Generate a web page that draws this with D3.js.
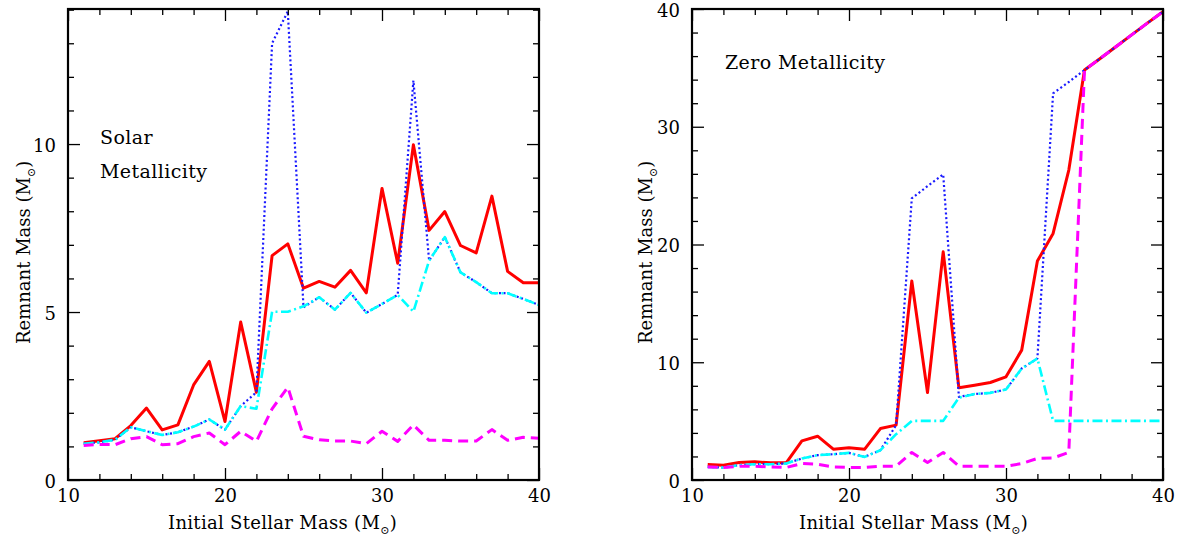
<!DOCTYPE html>
<html><head><meta charset="utf-8">
<script src="https://cdn.jsdelivr.net/npm/d3@7"></script>
<style>
body{margin:0;background:#fff}
svg{display:block}
text{font-family:"DejaVu Serif",serif;fill:#000}
</style>
</head><body>
<svg id="c" width="1181" height="542"></svg>
<script>
// ---- data ----
const masses = [11,12,13,14,15,16,17,18,19,20,21,22,23,24,25,26,27,28,29,30,31,32,33,34,35,36,37,38,39,40];

// Solar metallicity panel
const solarRed     = [1.11,1.17,1.23,1.62,2.14,1.49,1.64,2.83,3.53,1.74,4.70,2.61,6.68,7.03,5.71,5.91,5.74,6.24,5.57,8.68,6.45,9.98,7.43,7.99,6.98,6.76,8.45,6.21,5.87,5.87];
const solarBlue    = [1.08,1.12,1.20,1.57,1.45,1.34,1.42,1.59,1.80,1.50,2.20,2.61,13.0,13.95,5.14,5.44,5.07,5.57,4.98,5.24,5.51,11.89,6.53,7.23,6.18,5.89,5.56,5.56,5.39,5.21];
const solarCyan    = [1.08,1.12,1.20,1.57,1.45,1.34,1.42,1.59,1.80,1.50,2.20,2.12,5.01,5.01,5.17,5.44,5.07,5.57,4.98,5.24,5.51,5.01,6.53,7.23,6.18,5.89,5.56,5.56,5.39,5.21];
const solarMagenta = [1.03,1.06,1.05,1.23,1.29,1.05,1.08,1.29,1.40,1.05,1.45,1.15,2.12,2.76,1.30,1.20,1.16,1.16,1.08,1.45,1.15,1.64,1.18,1.18,1.16,1.16,1.50,1.18,1.27,1.24];

// Zero metallicity panel
const zeroRed     = [1.32,1.26,1.48,1.54,1.46,1.46,3.32,3.72,2.62,2.73,2.62,4.37,4.66,16.9,7.43,19.38,7.83,8.05,8.28,8.76,11.03,18.59,20.94,26.32,34.82,35.8,36.8,37.8,38.8,39.77];
const zeroBlue    = [1.11,1.05,1.26,1.34,1.34,1.40,1.83,2.11,2.19,2.30,1.96,2.53,4.66,23.92,24.95,25.95,7.06,7.3,7.40,7.69,9.47,10.32,32.84,33.8,34.82,35.8,36.8,37.8,38.8,39.77];
const zeroCyan    = [1.11,1.05,1.26,1.34,1.34,1.40,1.83,2.11,2.19,2.30,1.96,2.53,3.89,5.02,5.02,5.02,7.0,7.3,7.40,7.69,9.47,10.32,5.02,5.02,5.02,5.02,5.02,5.02,5.02,5.02];
const zeroMagenta = [1.11,1.06,1.17,1.17,1.11,1.06,1.40,1.34,1.11,1.06,1.06,1.17,1.17,2.34,1.49,2.34,1.17,1.17,1.17,1.17,1.40,1.83,1.87,2.34,34.82,35.8,36.8,37.8,38.8,39.77];

// ticks
const xMajor = [10,20,30,40];
const xMinor = [12,14,16,18,22,24,26,28,32,34,36,38];
const solarYMajor = [0,5,10];
const solarYMinor = [1,2,3,4,6,7,8,9,11,12,13,14];
const zeroYMajor = [0,10,20,30,40];
const zeroYMinor = [2,4,6,8,12,14,16,18,22,24,26,28,32,34,36,38];

const xTitle = "Initial Stellar Mass (M";
const yTitle = "Remnant Mass (M";

// ---- drawing ----
const svg = d3.select("#c");
const TOP = 9, BOTTOM = 480;

function addSunLabel(sel, base){
  sel.text(base);
  sel.append("tspan").attr("font-size", "11px").attr("dy", 5).text("\u2299");
  sel.append("tspan").attr("dy", -5).text(")");
}

function drawPanel(cfg, idx){
  const x = d3.scaleLinear().domain([10,40]).range([cfg.left, cfg.right]);
  const y = d3.scaleLinear().domain([0, cfg.ymax]).range([BOTTOM, TOP]);
  const g = svg.append("g");

  g.append("clipPath").attr("id","clip"+idx).append("rect")
    .attr("x", cfg.left).attr("y", TOP).attr("width", cfg.right-cfg.left).attr("height", BOTTOM-TOP);

  const line = d3.line().x((d,i)=>x(masses[i])).y(d=>y(d));
  const series = [
    {v: cfg.red, color:"#ff0000", w:3, dash:null},
    {v: cfg.blue, color:"#1a1aff", w:2.2, dash:"2,2.6"},
    {v: cfg.cyan, color:"#00ffff", w:2.6, dash:"10,3.5,2,3.5"},
    {v: cfg.magenta, color:"#ff00ff", w:3, dash:"10,6"}
  ];
  const lg = g.append("g").attr("clip-path", `url(#clip${idx})`);
  series.forEach(s=>{
    lg.append("path").attr("d", line(s.v)).attr("fill","none")
      .attr("stroke", s.color).attr("stroke-width", s.w)
      .attr("stroke-dasharray", s.dash).attr("stroke-linejoin","round");
  });

  // axes (inward ticks, all four sides)
  const mk = (sel)=>{ sel.select(".domain").remove(); sel.selectAll("line").attr("stroke","#000").attr("stroke-width",1.3); };
  g.append("g").attr("transform",`translate(0,${BOTTOM})`)
    .call(d3.axisBottom(x).tickValues(xMinor).tickSize(-6).tickFormat("")).call(mk);
  const bx = g.append("g").attr("transform",`translate(0,${BOTTOM})`)
    .call(d3.axisBottom(x).tickValues(xMajor).tickSize(-12).tickPadding(9).tickFormat(d3.format("d"))).call(mk);
  g.append("g").attr("transform",`translate(0,${TOP})`)
    .call(d3.axisTop(x).tickValues(xMinor).tickSize(-6).tickFormat("")).call(mk);
  g.append("g").attr("transform",`translate(0,${TOP})`)
    .call(d3.axisTop(x).tickValues(xMajor).tickSize(-12).tickFormat("")).call(mk);

  g.append("g").attr("transform",`translate(${cfg.left},0)`)
    .call(d3.axisLeft(y).tickValues(cfg.yMinor).tickSize(-6).tickFormat("")).call(mk);
  const ly = g.append("g").attr("transform",`translate(${cfg.left},0)`)
    .call(d3.axisLeft(y).tickValues(cfg.yMajor).tickSize(-12).tickPadding(12).tickFormat(d3.format("d"))).call(mk);
  g.append("g").attr("transform",`translate(${cfg.right},0)`)
    .call(d3.axisRight(y).tickValues(cfg.yMinor).tickSize(-6).tickFormat("")).call(mk);
  g.append("g").attr("transform",`translate(${cfg.right},0)`)
    .call(d3.axisRight(y).tickValues(cfg.yMajor).tickSize(-12).tickFormat("")).call(mk);

  [bx, ly].forEach(a=>a.selectAll("text").attr("font-family","DejaVu Serif, serif").attr("font-size","18px").attr("fill","#000"));
  ly.selectAll("text").attr("dy","0.4em");

  // frame
  g.append("rect").attr("x", cfg.left).attr("y", TOP)
    .attr("width", cfg.right-cfg.left).attr("height", BOTTOM-TOP)
    .attr("fill","none").attr("stroke","#000").attr("stroke-width",2.2);

  // titles
  const xt = g.append("text").attr("x", cfg.xTitleX).attr("y", 529).attr("font-size","18px").attr("letter-spacing","0.3px");
  addSunLabel(xt, xTitle);
  const yt = g.append("text").attr("transform",`translate(${cfg.yTitleX},344) rotate(-90)`).attr("font-size","18px");
  addSunLabel(yt, yTitle);

  cfg.notes.forEach(n=>{
    g.append("text").attr("x", n.x).attr("y", n.y).attr("font-size","19px").attr("letter-spacing","0.4px").text(n.t);
  });
}

drawPanel({left:68, right:539, ymax:14.02, yMajor:solarYMajor, yMinor:solarYMinor,
  red:solarRed, blue:solarBlue, cyan:solarCyan, magenta:solarMagenta,
  xTitleX:168, yTitleX:30,
  notes:[{t:"Solar", x:100, y:144},{t:"Metallicity", x:100, y:178}]}, 0);

drawPanel({left:692, right:1163, ymax:40, yMajor:zeroYMajor, yMinor:zeroYMinor,
  red:zeroRed, blue:zeroBlue, cyan:zeroCyan, magenta:zeroMagenta,
  xTitleX:799, yTitleX:652,
  notes:[{t:"Zero Metallicity", x:725, y:69}]}, 1);
</script>
</body></html>
